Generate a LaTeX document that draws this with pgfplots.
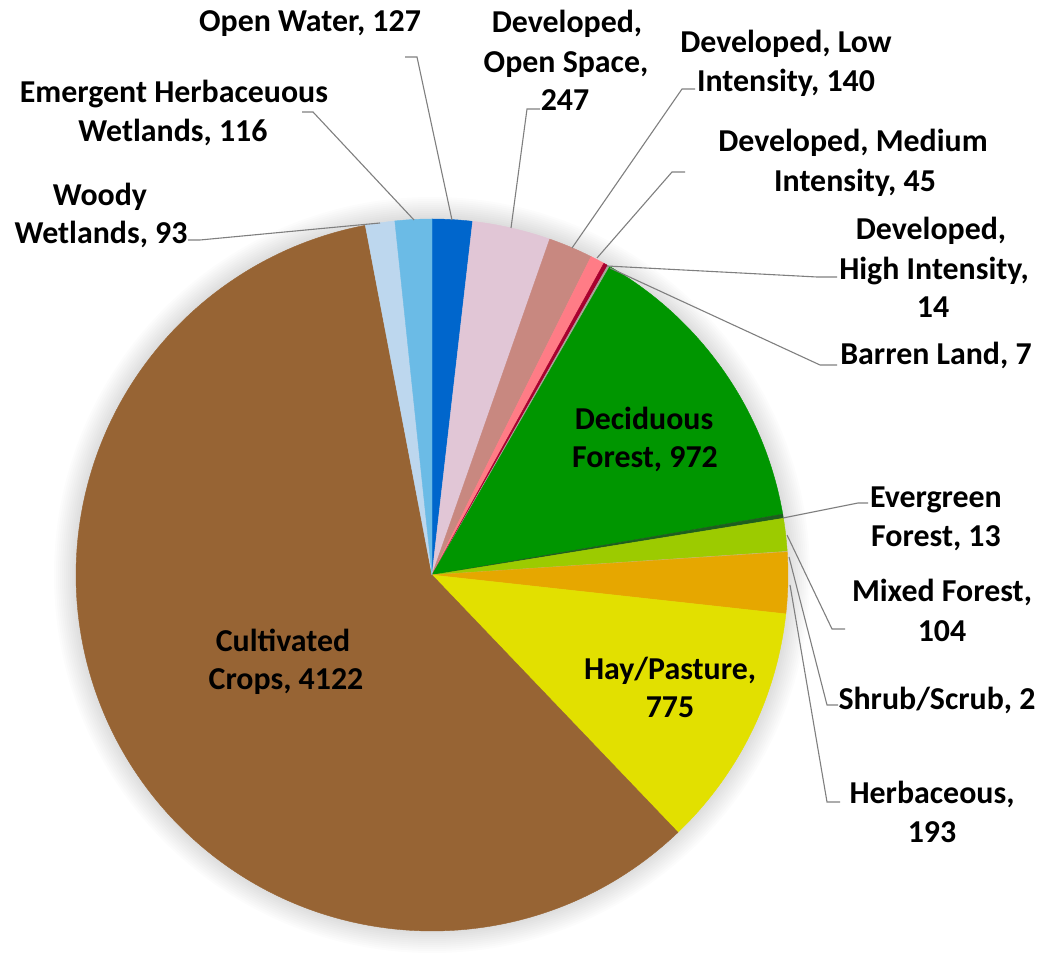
\documentclass[border=0pt]{standalone}
\usepackage{pgfplots}
\pgfplotsset{compat=1.18}
\usepackage{pgfplotstable}
\usepackage{fontspec}
\setmainfont{Carlito}

\definecolor{cOW}{HTML}{0066CC}
\definecolor{cDOS}{HTML}{E1C6D6}
\definecolor{cDLI}{HTML}{C88880}
\definecolor{cDMI}{HTML}{FF7C86}
\definecolor{cDHI}{HTML}{A8002E}
\definecolor{cBL}{HTML}{A9A49A}
\definecolor{cDF}{HTML}{009600}
\definecolor{cEF}{HTML}{1E5E1E}
\definecolor{cMF}{HTML}{9CCB00}
\definecolor{cSS}{HTML}{CCB879}
\definecolor{cHB}{HTML}{E6A700}
\definecolor{cHP}{HTML}{E2E000}
\definecolor{cCC}{HTML}{976434}
\definecolor{cWW}{HTML}{BDD7EE}
\definecolor{cEHW}{HTML}{6BBBE6}
\definecolor{leader}{HTML}{7F7F7F}

\pgfplotstableread{
value col
127 cOW
247 cDOS
140 cDLI
45 cDMI
14 cDHI
7 cBL
972 cDF
13 cEF
104 cMF
2 cSS
193 cHB
775 cHP
4122 cCC
93 cWW
116 cEHW
}\piedata

\newcommand\lbl[3]{\node[anchor=base, inner sep=0pt, font=\bfseries\fontsize{32}{38}\selectfont] at (axis cs:#1,{921-#2}) {#3};}
\newcommand\leader[6]{\draw[leader, line width=1.1bp] (axis cs:#1,{931-#2}) -- (axis cs:#3,{931-#4}) -- (axis cs:#5,{931-#6});}

\begin{document}
\begin{tikzpicture}
\begin{axis}[
  scale only axis, width=1044bp, height=931bp,
  xmin=0, xmax=1044, ymin=0, ymax=931,
  enlargelimits=false, hide axis, clip=false,
]
\addplot[draw=none, mark=none] coordinates {(0,0) (1044,931)};
% soft shadow
\pgfplotsforeachungrouped \k in {1,...,11}{%
  \pgfmathsetmacro\rr{356+2*\k}%
  \edef\temp{\noexpand\fill[black, opacity=0.011] (axis cs:432,356) circle[radius=\rr bp];}%
  \temp
}
\pgfplotstablegetrowsof{\piedata}
\pgfmathtruncatemacro\nlast{\pgfplotsretval-1}
\def\total{0}
\pgfplotsforeachungrouped \i in {0,...,\nlast}{%
  \pgfplotstablegetelem{\i}{value}\of\piedata
  \pgfmathsetmacro\total{\total+\pgfplotsretval}%
}
\def\cum{0}
\pgfplotsforeachungrouped \i in {0,...,\nlast}{%
  \pgfplotstablegetelem{\i}{value}\of\piedata \let\sliceval\pgfplotsretval
  \pgfplotstablegetelem{\i}{col}\of\piedata \let\slicecol\pgfplotsretval
  \pgfmathsetmacro\aone{90-360*(\cum/\total)}%
  \pgfmathsetmacro\cum{\cum+\sliceval}%
  \pgfmathsetmacro\atwo{90-360*(\cum/\total)}%
  \edef\temp{\noexpand\fill[\slicecol, draw=\slicecol, line width=0.4bp] (axis cs:432,356) -- ++(\aone:356bp) arc[start angle=\aone, end angle=\atwo, radius=356bp] -- cycle;}%
  \temp
}
% leader lines
\leader{405}{57}{417}{57}{452}{220}
\leader{302}{112}{313}{112}{414}{220}
\leader{188}{240}{200}{240}{380}{223}
\leader{540}{109}{527}{109}{511}{228}
\leader{695}{89}{682}{89}{572}{248}
\leader{685}{172}{672}{172}{597}{258}
\leader{837}{277}{817}{277}{607}{266}
\leader{837}{365}{820}{365}{610}{268}
\leader{868}{503}{858}{503}{783}{518}
\leader{845}{629}{832}{629}{787}{535}
\leader{838}{705}{827}{705}{789}{557}
\leader{840}{802}{827}{802}{790}{585}
% labels
\lbl{310}{22}{Open Water, 127}
\lbl{174}{93}{Emergent Herbaceuous}
\lbl{173}{132}{Wetlands, 116}
\lbl{100}{196}{Woody}
\lbl{101}{234}{Wetlands, 93}
\lbl{567}{23}{Developed,}
\lbl{566}{63}{Open Space,}
\lbl{565}{101}{247}
\lbl{786}{43}{Developed, Low}
\lbl{786}{82}{Intensity, 140}
\lbl{853}{142}{Developed, Medium}
\lbl{855}{182}{Intensity, 45}
\lbl{931}{230}{Developed,}
\lbl{934}{270}{High Intensity,}
\lbl{933}{308}{14}
\lbl{936}{355}{Barren Land, 7}
\lbl{644}{420}{Deciduous}
\lbl{645}{458}{Forest, 972}
\lbl{936}{498}{Evergreen}
\lbl{936}{537}{Forest, 13}
\lbl{942}{592}{Mixed Forest,}
\lbl{942}{632}{104}
\lbl{937}{700}{Shrub/Scrub, 2}
\lbl{932}{793}{Herbaceous,}
\lbl{932}{832}{193}
\lbl{670}{670}{Hay/Pasture,}
\lbl{670}{708}{775}
\lbl{283}{642}{Cultivated}
\lbl{286}{680}{Crops, 4122}
\end{axis}
\end{tikzpicture}
\end{document}
